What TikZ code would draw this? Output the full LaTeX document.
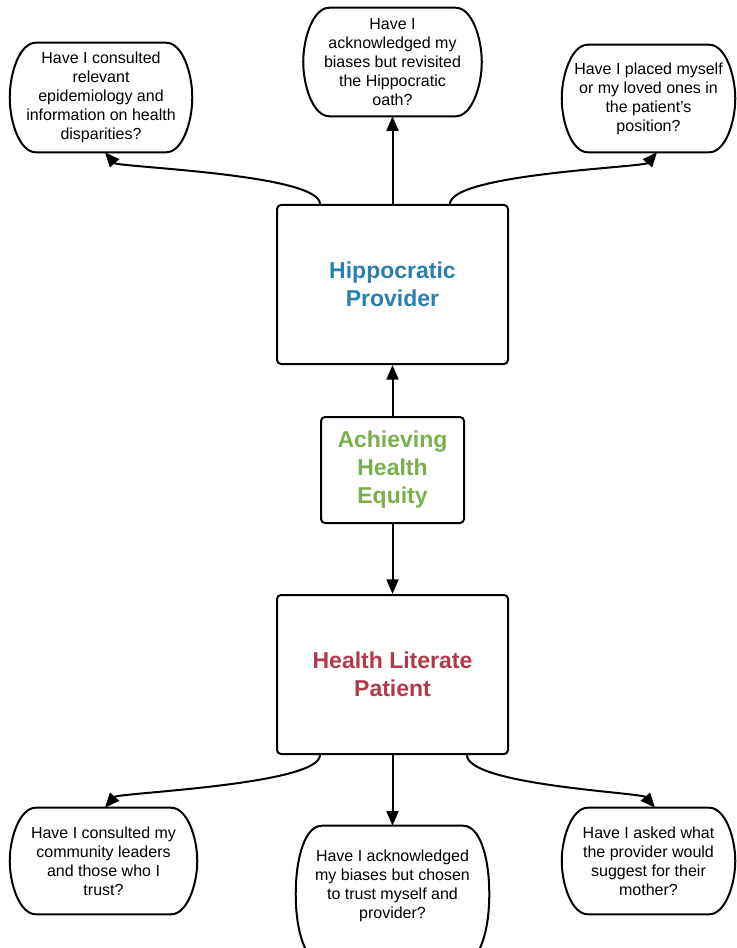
\documentclass[tikz,border=0pt]{standalone}
\usepackage{fontspec}
\setmainfont{Liberation Sans}
\usetikzlibrary{arrows.meta,calc}

\definecolor{provblue}{HTML}{2A7FB0}
\definecolor{equitygreen}{HTML}{7AB04C}
\definecolor{patred}{HTML}{B23A48}

\begin{document}
\begin{tikzpicture}[x=0.75pt,y=-0.75pt,
  box/.style={draw,line width=1.5pt,rounded corners=3pt,align=center,
    font=\fontsize{17.25}{21}\selectfont\bfseries},
  bubble/.style={inner sep=0pt,align=center,font=\fontsize{12}{14.25}\selectfont},
  link/.style={line width=1.5pt,-{Triangle[length=11pt,width=9pt]}}]
\clip (0,0) rectangle (737,948);

% Draw the three main boxes
\node[box,text=provblue,minimum width=231*0.75pt,minimum height=159*0.75pt] (hp) at (392.5,284.5) {Hippocratic\\Provider};
\node[box,text=equitygreen,minimum width=143*0.75pt,minimum height=106*0.75pt] (eq) at (392.5,470) {Achieving\\Health\\Equity};
\node[box,text=patred,minimum width=231*0.75pt,minimum height=159*0.75pt] (pt) at (392.5,674.5) {Health Literate\\Patient};

% Questions for the provider
\node[bubble,minimum width=182*0.75pt,minimum height=109*0.75pt] (q1) at (101,97.5) {Have I consulted\\relevant\\epidemiology and\\information on health\\disparities?};
\node[bubble,minimum width=178*0.75pt,minimum height=108*0.75pt] (q2) at (392.5,62) {Have I\\acknowledged my\\biases but revisited\\the Hippocratic\\oath?};
\node[bubble,minimum width=173*0.75pt,minimum height=107*0.75pt] (q3) at (648.5,98.5) {Have I placed myself\\or my loved ones in\\the patient's\\position?};

% Questions for the patient
\node[bubble,minimum width=187*0.75pt,minimum height=106*0.75pt] (q4) at (103.5,861) {Have I consulted my\\community leaders\\and those who I\\trust?};
\node[bubble,minimum width=193*0.75pt,minimum height=119*0.75pt] (q5) at (392.5,885.5) {Have I acknowledged\\my biases but chosen\\to trust myself and\\provider?};
\node[bubble,minimum width=173*0.75pt,minimum height=106*0.75pt] (q6) at (648.5,861) {Have I asked what\\the provider would\\suggest for their\\mother?};

% Outline of each question bubble
\foreach \n/\b in {q1/0,q2/0,q3/0,q4/0,q5/17,q6/0}
  \draw[line width=1.5pt] ($(\n.north west)+(26,0)$) -- ($(\n.north east)+(-26,0)$)
    .. controls ($(\n.north east)+(-10,0)$) and ($(\n.north east)+(0,30)$) .. ($(\n.east)+(0,\b/2)$)
    .. controls ($(\n.south east)+(0,\b-30)$) and ($(\n.south east)+(-10,\b)$) .. ($(\n.south east)+(-26,\b)$)
    -- ($(\n.south west)+(26,\b)$)
    .. controls ($(\n.south west)+(10,\b)$) and ($(\n.south west)+(0,\b-30)$) .. ($(\n.west)+(0,\b/2)$)
    .. controls ($(\n.north west)+(0,30)$) and ($(\n.north west)+(10,0)$) .. cycle;

% Arrows from the provider box
\draw[link] ($(hp.north)+(-72.5,0)$) .. controls +(0,-30) and +(13,15) .. ($(q1.south)+(4,0)$);
\draw[link] (hp.north) -- (q2.south);
\draw[link] ($(hp.north)+(57.5,0)$) .. controls +(0,-30) and +(-13,15) .. ($(q3.south)+(8.5,0)$);

% Arrows from the centre box
\draw[link] (eq.north) -- (hp.south);
\draw[link] (eq.south) -- (pt.north);

% Arrows from the patient box
\draw[link] ($(pt.south)+(-72.5,0)$) .. controls +(0,30) and +(13,-15) .. ($(q4.north)+(1.5,0)$);
\draw[link] (pt.south) -- (q5.north);
\draw[link] ($(pt.south)+(74.5,0)$) .. controls +(0,30) and +(-13,-15) .. ($(q6.north)+(6.5,0)$);
\end{tikzpicture}
\end{document}
